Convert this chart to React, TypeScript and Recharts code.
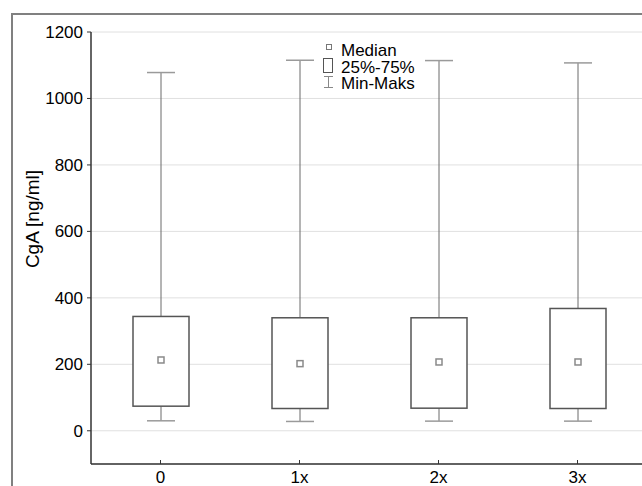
import { ComposedChart, Bar, XAxis, YAxis, CartesianGrid } from 'recharts'

const categories = ['0', '1x', '2x', '3x']
const minValues = [30, 28, 29, 29]
const q1Values = [74, 67, 68, 67]
const medianValues = [213, 202, 207, 207]
const q3Values = [344, 340, 340, 368]
const maxValues = [1078, 1115, 1114, 1107]
const yTicks = [0, 200, 400, 600, 800, 1000, 1200]

const data = categories.map((name, i) => ({
  name,
  range: [minValues[i], maxValues[i]],
  min: minValues[i],
  q1: q1Values[i],
  median: medianValues[i],
  q3: q3Values[i],
  max: maxValues[i],
}))

const FONT = '"Liberation Sans", Arial, sans-serif'

// draws whiskers, box and median marker from the min-max range bar
function BoxShape(props: any) {
  const { x, y, width, height, payload } = props
  const top = Math.min(y, y + height)
  const bottom = Math.max(y, y + height)
  const k = (bottom - top) / (payload.max - payload.min)
  const toY = (v: number) => bottom - (v - payload.min) * k
  const cx = x + width / 2
  const capHalf = width / 4
  const yq1 = toY(payload.q1)
  const yq3 = toY(payload.q3)
  const ymed = toY(payload.median)
  return (
    <g>
      <line x1={cx} x2={cx} y1={top} y2={yq3} stroke="#6a6a6a" />
      <line x1={cx} x2={cx} y1={yq1} y2={bottom} stroke="#6a6a6a" />
      <line x1={cx - capHalf} x2={cx + capHalf} y1={top} y2={top} stroke="#9a9a9a" strokeWidth={1.5} />
      <line x1={cx - capHalf} x2={cx + capHalf} y1={bottom} y2={bottom} stroke="#9a9a9a" strokeWidth={1.5} />
      <rect x={x} y={yq3} width={width} height={yq1 - yq3} fill="#fff" stroke="#555" strokeWidth={1.5} />
      <rect x={cx - 3} y={ymed - 3} width={6} height={6} fill="#fff" stroke="#8a8a8a" strokeWidth={1.5} />
    </g>
  )
}

function BottomTick(props: any) {
  const { x, y, payload } = props
  return (
    <g>
      <line x1={x} x2={x} y1={y} y2={y - 4} stroke="#333" />
      <text x={x} y={y + 19} textAnchor="middle" fontSize={17} fontFamily={FONT} fill="#000">
        {payload.value}
      </text>
    </g>
  )
}

function TopTick(props: any) {
  const { x, y } = props
  return <line x1={x} x2={x} y1={y} y2={y + 4} stroke="#333" />
}

export default function App() {
  return (
    <div
      style={{
        position: 'fixed',
        left: 0,
        top: 0,
        width: 642,
        height: 486,
        overflow: 'hidden',
        background: '#fff',
      }}
    >
      <ComposedChart
        width={660}
        height={486}
        data={data}
        margin={{ top: 32, right: 13, bottom: 0, left: 0 }}
      >
        <CartesianGrid vertical={false} stroke="#e0e0e0" />
        <XAxis
          dataKey="name"
          height={22}
          axisLine={{ stroke: '#333', strokeWidth: 1.5 }}
          tickLine={false}
          tickSize={0}
          tickMargin={0}
          tick={<BottomTick />}
          interval={0}
        />
        <XAxis
          xAxisId="top"
          orientation="top"
          dataKey="name"
          height={0}
          axisLine={{ stroke: '#333', strokeWidth: 1.5 }}
          tickLine={false}
          tickSize={0}
          tickMargin={0}
          tick={<TopTick />}
          interval={0}
        />
        <YAxis
          type="number"
          width={91}
          domain={[-100, 1200]}
          ticks={yTicks}
          interval={0}
          axisLine={{ stroke: '#333', strokeWidth: 1.5 }}
          tickLine={{ stroke: '#333' }}
          tickSize={4}
          tickMargin={4}
          tick={{ fontSize: 17, fontFamily: FONT, fill: '#000' }}
        />
        <Bar dataKey="range" barSize={56} shape={<BoxShape />} isAnimationActive={false} />
      </ComposedChart>
      <svg
        width={642}
        height={486}
        style={{ position: 'absolute', left: 0, top: 0, pointerEvents: 'none' }}
      >
        <line x1={12} x2={12} y1={13} y2={486} stroke="#808080" strokeWidth={2} />
        <line x1={11} x2={642} y1={14} y2={14} stroke="#808080" strokeWidth={2} />
        <text
          transform="translate(39, 219) rotate(-90)"
          textAnchor="middle"
          fontSize={19}
          fontFamily={FONT}
          fill="#000"
        >
          CgA [ng/ml]
        </text>
        <rect x={326.5} y={44.5} width={5} height={5} fill="#fff" stroke="#777" />
        <rect x={323.5} y={58.5} width={9} height={14} fill="#fff" stroke="#555" />
        <line x1={324} x2={333} y1={76.5} y2={76.5} stroke="#888" />
        <line x1={328.5} x2={328.5} y1={76.5} y2={87.5} stroke="#888" />
        <line x1={324} x2={333} y1={87.5} y2={87.5} stroke="#888" />
        <g fontSize={17} fontFamily={FONT} fill="#000">
          <text x={341} y={56}>Median</text>
          <text x={341} y={72.5}>25%-75%</text>
          <text x={341} y={88.5}>Min-Maks</text>
        </g>
      </svg>
    </div>
  )
}
